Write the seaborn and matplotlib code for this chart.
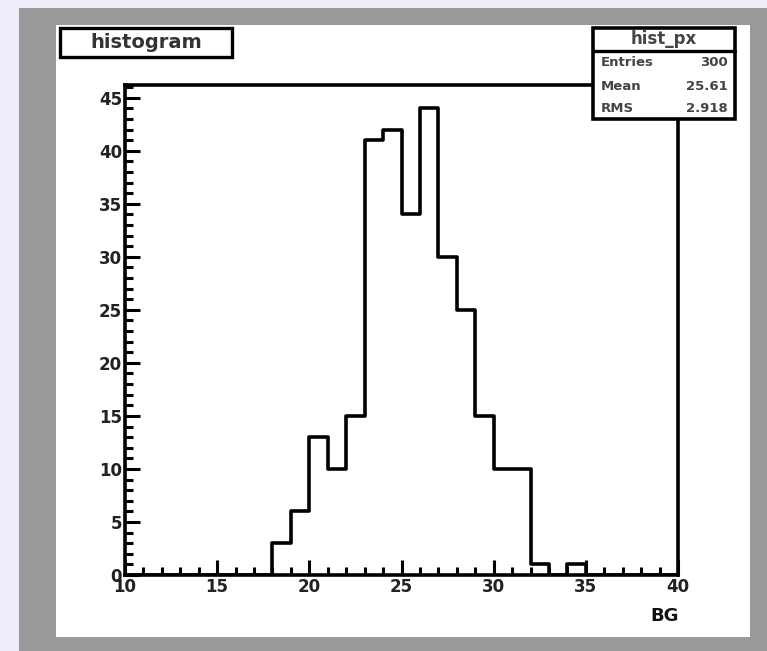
import matplotlib
matplotlib.use("Agg")
import numpy as np
import pandas as pd
import seaborn as sns
import matplotlib.pyplot as plt
from matplotlib.patches import Rectangle
from matplotlib.lines import Line2D
from matplotlib.ticker import MultipleLocator, FixedLocator

# Histogram contents: one entry per unit-wide bin from 10 to 40
bin_low = [10, 11, 12, 13, 14, 15, 16, 17, 18, 19,
           20, 21, 22, 23, 24, 25, 26, 27, 28, 29,
           30, 31, 32, 33, 34, 35, 36, 37, 38, 39]
counts = [0, 0, 0, 0, 0, 0, 0, 0, 3, 6,
          13, 10, 15, 41, 42, 34, 44, 30, 25, 15,
          10, 10, 1, 0, 1, 0, 0, 0, 0, 0]

x_ticks = [10, 15, 20, 25, 30, 35, 40]
y_ticks = [0, 5, 10, 15, 20, 25, 30, 35, 40, 45]

hist_title = "histogram"
stats_name = "hist_px"
stats_labels = ["Entries", "Mean", "RMS"]
stats_values = ["300", "25.61", "2.918"]
x_title = "BG"

W, H = 767, 651
LW = 2.6

sns.set_theme(style="white")
plt.rcParams["font.family"] = ["DejaVu Sans"]

fig = plt.figure(figsize=(W / 100, H / 100), dpi=100, facecolor="#ededf9")


def fx(x):
    return x / W


def fy(y):
    return 1 - y / H


def box(x0, y0, x1, y1, **kw):
    r = Rectangle((fx(x0), fy(y1)), (x1 - x0) / W, (y1 - y0) / H,
                  transform=fig.transFigure, **kw)
    fig.add_artist(r)
    return r


# Canvas frame: grey border around a white pad
box(19, 8, 767, 651, facecolor="#999999", edgecolor="none", zorder=-10)
box(56, 25, 750, 637, facecolor="white", edgecolor="none", zorder=-9)

ax = fig.add_axes([fx(125), fy(575), (678 - 125) / W, (575 - 85) / H])
ax.set_facecolor("white")

df = pd.DataFrame({"BG": [b + 0.5 for b in bin_low], "count": counts})
sns.histplot(data=df, x="BG", weights="count", bins=len(bin_low),
             binrange=(bin_low[0], bin_low[-1] + 1), element="step",
             fill=False, color="black", linewidth=LW, ax=ax)

ax.set_xlim(bin_low[0], bin_low[-1] + 1)
ax.set_ylim(0, max(counts) * 1.05)
ax.set_xlabel("")
ax.set_ylabel("")

ax.xaxis.set_major_locator(FixedLocator(x_ticks))
ax.yaxis.set_major_locator(FixedLocator(y_ticks))
ax.xaxis.set_minor_locator(MultipleLocator(1))
ax.yaxis.set_minor_locator(MultipleLocator(1))
ax.set_xticklabels([str(t) for t in x_ticks])
ax.set_yticklabels([str(t) for t in y_ticks])

ax.tick_params(which="both", direction="in", color="black",
               top=False, right=False, bottom=True, left=True)
ax.tick_params(which="major", length=11, width=2.2, pad=2,
               labelsize=12, labelcolor="#222222")
ax.tick_params(which="minor", length=5.5, width=2.2)
for lab in ax.get_xticklabels() + ax.get_yticklabels():
    lab.set_fontweight("bold")

for s in ax.spines.values():
    s.set_visible(True)
    s.set_color("black")
    s.set_linewidth(LW)

# Axis title at the right end of the x axis
fig.text(fx(679), fy(616), x_title, ha="right", va="center",
         fontsize=13, fontweight="bold", color="#111111")

# Title box in the upper left
box(60, 28, 232, 57, facecolor="white", edgecolor="black", linewidth=2.4, zorder=5)
fig.text(fx(146), fy(42.5), hist_title, ha="center", va="center",
         fontsize=14, fontweight="bold", color="#333333", zorder=6)

# Statistics box in the upper right
box(593, 28, 735, 119, facecolor="white", edgecolor="black", linewidth=2.6, zorder=5)
fig.add_artist(Line2D([fx(593), fx(735)], [fy(51), fy(51)], transform=fig.transFigure,
                      color="black", linewidth=2.4, zorder=6))
fig.text(fx(664), fy(39.5), stats_name, ha="center", va="center",
         fontsize=12, fontweight="bold", color="#444444", zorder=7)
row_y = [63, 86, 109]
for ry, lab, val in zip(row_y, stats_labels, stats_values):
    fig.text(fx(601), fy(ry), lab, ha="left", va="center", fontsize=9.5,
             fontweight="bold", color="#444444", zorder=7)
    fig.text(fx(728), fy(ry), val, ha="right", va="center", fontsize=9.5,
             fontweight="bold", color="#444444", zorder=7)

fig.savefig("out.png", dpi=100, facecolor=fig.get_facecolor())
